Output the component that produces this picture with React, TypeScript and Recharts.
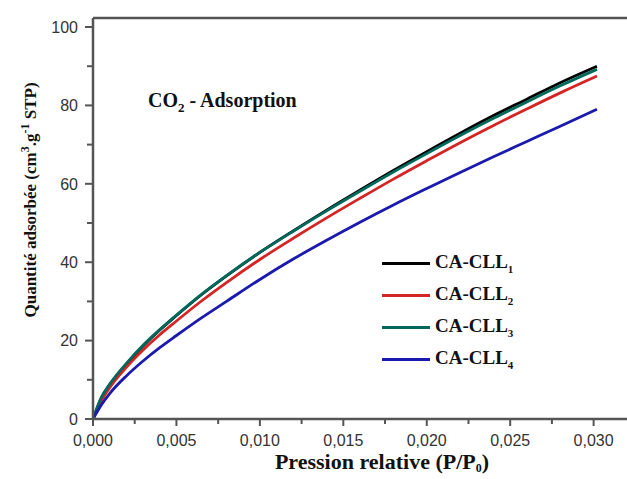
import React from 'react';
import { LineChart, Line, XAxis, YAxis, ReferenceLine, Legend, Label } from 'recharts';

// P/P0 sample points and CO2 uptake (cm3/g STP)
const pressure = [0, 0.0005, 0.001, 0.002, 0.003, 0.004, 0.005, 0.0065, 0.008, 0.01, 0.012, 0.014, 0.016, 0.018, 0.02, 0.022, 0.024, 0.026, 0.028, 0.0302];
const cll1 = [0, 5.3, 8.7, 14, 18.6, 22.7, 26.4, 31.7, 36.5, 42.5, 48, 53.3, 58.4, 63.4, 68.2, 72.9, 77.4, 81.6, 85.8, 90];
const cll2 = [0, 4.6, 8, 13.2, 17.6, 21.5, 25, 30.1, 34.8, 40.7, 46.1, 51.3, 56.3, 61.2, 65.9, 70.5, 74.9, 79.1, 83.2, 87.5];
const cll3 = [0, 5.5, 8.9, 14.2, 18.8, 22.8, 26.5, 31.8, 36.6, 42.5, 47.9, 53.1, 58.1, 63, 67.7, 72.3, 76.7, 80.9, 85, 89.2];
const cll4 = [0, 3.6, 6.5, 11, 14.8, 18.2, 21.3, 25.8, 30, 35.6, 40.8, 45.6, 50.2, 54.6, 58.8, 62.9, 66.9, 70.8, 74.7, 79];

const seriesNames = ['CA-CLL1', 'CA-CLL2', 'CA-CLL3', 'CA-CLL4'];
const seriesColors = ['#000000', '#d42525', '#00695c', '#1a1aae'];

const xTicks = [0, 0.0025, 0.005, 0.0075, 0.01, 0.0125, 0.015, 0.0175, 0.02, 0.0225, 0.025, 0.0275, 0.03];
const yTicks = [0, 10, 20, 30, 40, 50, 60, 70, 80, 90, 100];
const xMax = 0.032;
const yMax = 102.3;

const data = pressure.map((p, i) => ({
  p,
  s1: cll1[i],
  s2: cll2[i],
  s3: cll3[i],
  s4: cll4[i],
}));
const keys = ['s1', 's2', 's3', 's4'];

const axisColor = '#555';
const sans = '"Liberation Sans", Arial, sans-serif';
const serif = '"Liberation Serif", "Times New Roman", serif';

const XTick = (props: any) => {
  const { x, y, payload } = props;
  const v = payload.value;
  const major = Math.abs(v / 0.005 - Math.round(v / 0.005)) < 1e-6;
  return (
    <g>
      <line x1={x} x2={x} y1={y} y2={y + (major ? 7 : 5)} stroke={axisColor} strokeWidth={2} />
      {major && (
        <text x={x} y={y + 27} textAnchor="middle" fontFamily={sans} fontSize={16} fill="#333">
          {v.toFixed(3).replace('.', ',')}
        </text>
      )}
    </g>
  );
};

const YTick = (props: any) => {
  const { x, y, payload } = props;
  const v = payload.value;
  const major = v % 20 === 0;
  return (
    <g>
      <line x1={x} x2={x - (major ? 8 : 6)} y1={y} y2={y} stroke={axisColor} strokeWidth={2} />
      {major && (
        <text x={x - 15} y={y} dy="0.36em" textAnchor="end" fontFamily={sans} fontSize={16} fill="#333">
          {v}
        </text>
      )}
    </g>
  );
};

const LegendContent = (props: any) => {
  const { payload } = props;
  return (
    <div style={{ fontFamily: serif, fontWeight: 'bold', fontSize: 19, color: '#111' }}>
      {(payload || []).map((entry: any) => {
        const name = String(entry.value);
        return (
          <div key={name} style={{ display: 'flex', alignItems: 'center', height: 32 }}>
            <div style={{ width: 48, height: 3, background: entry.color, marginRight: 5 }} />
            <span>
              {name.slice(0, -1)}
              <sub style={{ fontSize: 11 }}>{name.slice(-1)}</sub>
            </span>
          </div>
        );
      })}
    </div>
  );
};

const App: React.FC = () => {
  return (
    <div style={{ position: 'absolute', left: 0, top: 0, width: 627, height: 479, background: '#fff' }}>
      <LineChart width={627} height={479} data={data} margin={{ top: 18, right: 0, bottom: 0, left: 0 }}>
        <XAxis
          dataKey="p"
          type="number"
          domain={[0, xMax]}
          ticks={xTicks}
          tick={<XTick />}
          tickLine={false}
          tickSize={0}
          tickMargin={0}
          height={60}
          interval={0}
          axisLine={{ stroke: axisColor, strokeWidth: 2.5 }}
        >
          <Label
            content={() => (
              <text x={382} y={469} textAnchor="middle" fontFamily={serif} fontWeight="bold" fontSize={22} fill="#111">
                Pression relative (P/P
                <tspan fontSize={12} dy={3}>0</tspan>
                <tspan dy={-3}>)</tspan>
              </text>
            )}
          />
        </XAxis>
        <YAxis
          type="number"
          domain={[0, yMax]}
          ticks={yTicks}
          tick={<YTick />}
          tickLine={false}
          tickSize={0}
          tickMargin={0}
          width={93}
          interval={0}
          axisLine={{ stroke: axisColor, strokeWidth: 2.5 }}
        >
          <Label
            content={() => (
              <text
                x={0}
                y={0}
                transform="translate(36, 200) rotate(-90)"
                textAnchor="middle"
                fontFamily={serif}
                fontWeight="bold"
                fontSize={17}
                fill="#111"
              >
                Quantité adsorbée (cm
                <tspan fontSize={12} dy={-7}>3</tspan>
                <tspan dy={7}>.g</tspan>
                <tspan fontSize={12} dy={-7}>-1</tspan>
                <tspan dy={7}> STP)</tspan>
              </text>
            )}
          />
        </YAxis>
        <ReferenceLine y={yMax} stroke={axisColor} strokeWidth={2.5} />
        <Legend
          layout="vertical"
          align="center"
          verticalAlign="middle"
          content={<LegendContent />}
          wrapperStyle={{ position: 'absolute', left: 382, top: 247, width: 'auto' }}
        />
        {keys.map((k, i) => (
          <Line
            key={k}
            type="monotone"
            dataKey={k}
            name={seriesNames[i]}
            stroke={seriesColors[i]}
            strokeWidth={2.8}
            dot={false}
            isAnimationActive={false}
          />
        ))}
      </LineChart>
      <div
        style={{
          position: 'absolute',
          left: 148,
          top: 89,
          fontFamily: serif,
          fontWeight: 'bold',
          fontSize: 20,
          color: '#111',
          whiteSpace: 'nowrap',
        }}
      >
        CO<sub style={{ fontSize: 13 }}>2</sub> - Adsorption
      </div>
    </div>
  );
};

export default App;
